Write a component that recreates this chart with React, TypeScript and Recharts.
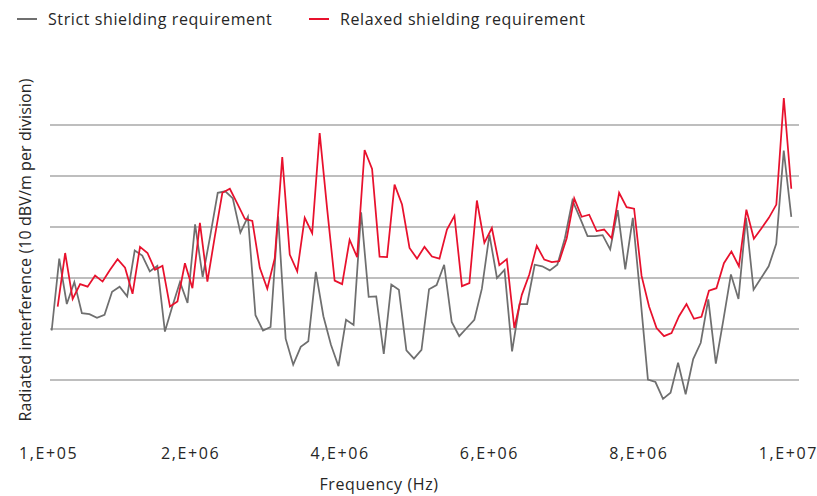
import { LineChart, Line, XAxis, YAxis, CartesianGrid } from "recharts";

// radiated interference, in dBV/m (10 per grid division)
const strict = [
  19.7, 33.8, 24.9, 29.2, 23.1, 22.9, 22.2, 22.8, 27.3, 28.3,
  26.4, 35.4, 34.4, 31.3, 32.4, 19.5, 24.5, 29.2, 25.1, 40.5,
  30.2, 38.2, 46.7, 47.0, 45.6, 38.9, 42.0, 22.7, 19.7, 20.4,
  42.1, 18.1, 13.0, 16.5, 17.6, 31.2, 22.5, 16.9, 12.7, 21.8,
  20.8, 42.9, 26.3, 26.4, 15.1, 28.7, 27.7, 15.8, 14.2, 15.9,
  27.8, 28.6, 32.6, 21.4, 18.6, 20.2, 21.8, 27.9, 38.5, 30.0,
  31.6, 15.6, 24.9, 24.9, 32.6, 32.3, 31.5, 32.6, 37.8, 45.2,
  41.8, 38.2, 38.2, 38.4, 35.6, 43.3, 31.7, 41.8, 26.3, 10.1,
  9.6, 6.3, 7.5, 13.4, 7.2, 14.1, 17.3, 25.8, 13.2, 21.8,
  30.7, 25.9, 41.8, 27.7, 30.0, 32.3, 36.7, 55.0, 42.0,
];

const relaxed = [
  24.4, 34.9, 25.9, 28.8, 28.3, 30.5, 29.3, 31.6, 33.7, 32.0,
  26.9, 36.1, 34.9, 31.6, 32.4, 24.4, 25.4, 32.9, 28.0, 40.8,
  29.3, 38.2, 46.7, 47.5, 44.6, 41.6, 41.2, 32.0, 27.9, 33.9,
  53.7, 34.6, 31.3, 41.8, 38.8, 58.4, 43.5, 29.5, 28.8, 37.5,
  34.1, 55.1, 51.4, 34.2, 34.1, 48.3, 44.4, 35.9, 33.8, 36.1,
  34.2, 33.8, 39.5, 42.2, 28.4, 29.0, 45.2, 36.9, 39.8, 32.5,
  33.7, 20.2, 26.7, 30.7, 36.3, 33.6, 33.1, 33.3, 37.8, 45.6,
  42.0, 42.4, 39.2, 39.5, 37.8, 46.7, 43.9, 43.6, 30.4, 24.4,
  20.2, 18.6, 19.2, 22.5, 24.9, 22.0, 22.4, 27.5, 28.0, 32.9,
  35.2, 32.3, 43.4, 37.7, 39.7, 41.8, 44.4, 65.3, 47.5,
];

const tickHz = [1e5, 2e6, 4e6, 6e6, 8e6, 1e7];
const tickLabels = ["1,E+05", "2,E+06", "4,E+06", "6,E+06", "8,E+06", "1,E+07"];
const gridDb = [10, 20, 30, 40, 50, 60];

// both measurements are linear sweeps, they just start at slightly different frequencies
const sweep = (values: number[], startHz: number, stopHz: number) =>
  values.map((v, i) => ({
    f: startHz + ((stopHz - startHz) * i) / (values.length - 1),
    v,
  }));

const strictData = sweep(strict, 1e5, 1e7);
const relaxedData = sweep(relaxed, 1.8e5, 1e7);

const GRAY = "#6f6f6f";
const RED = "#e8112d";
const TEXT = "#262626";
const FONT = "'Open Sans', sans-serif";

function LegendItem({ color, label, x }: { color: string; label: string; x: number }) {
  return (
    <div style={{ position: "absolute", left: x, top: 8, display: "flex", alignItems: "center" }}>
      <span style={{ width: 20, height: 2, background: color, marginRight: 11 }} />
      <span style={{ fontSize: 16, letterSpacing: 0.6, color: TEXT, whiteSpace: "nowrap" }}>{label}</span>
    </div>
  );
}

export default function App() {
  return (
    <div
      style={{
        position: "absolute",
        left: 0,
        top: 0,
        width: 817,
        height: 496,
        background: "#fff",
        fontFamily: FONT,
      }}
    >
      <LegendItem color={GRAY} label="Strict shielding requirement" x={17} />
      <LegendItem color={RED} label="Relaxed shielding requirement" x={309} />

      <LineChart width={817} height={496} margin={{ top: 74, right: 18, left: 50, bottom: 35 }}>
        <CartesianGrid vertical={false} horizontalValues={gridDb} stroke="#a8a8a8" strokeWidth={1.5} />
        <XAxis
          type="number"
          dataKey="f"
          domain={[1e5, 1e7]}
          ticks={tickHz}
          tickFormatter={(v) => tickLabels[tickHz.indexOf(v)] ?? ""}
          padding={{ left: 1.7, right: 7.7 }}
          axisLine={false}
          tickLine={false}
          tickMargin={11}
          height={30}
          tick={{ fontSize: 16, fill: TEXT, fontFamily: FONT, letterSpacing: 1.6, dx: -3 }}
          interval={0}
        />
        <YAxis hide type="number" domain={[0, 70]} ticks={gridDb} />
        <Line
          data={strictData}
          dataKey="v"
          type="linear"
          stroke={GRAY}
          strokeWidth={1.75}
          dot={false}
          isAnimationActive={false}
        />
        <Line
          data={relaxedData}
          dataKey="v"
          type="linear"
          stroke={RED}
          strokeWidth={1.75}
          dot={false}
          isAnimationActive={false}
        />
      </LineChart>

      <div
        style={{
          position: "absolute",
          left: 379,
          top: 484,
          transform: "translate(-50%, -50%)",
          fontSize: 16,
          letterSpacing: 0.6,
          color: TEXT,
          whiteSpace: "nowrap",
        }}
      >
        Frequency (Hz)
      </div>
      <div
        style={{
          position: "absolute",
          left: 25,
          top: 250,
          transform: "translate(-50%, -50%) rotate(-90deg)",
          fontSize: 16,
          letterSpacing: 0.1,
          color: TEXT,
          whiteSpace: "nowrap",
        }}
      >
        Radiated interference (10 dBV/m per division)
      </div>
    </div>
  );
}
